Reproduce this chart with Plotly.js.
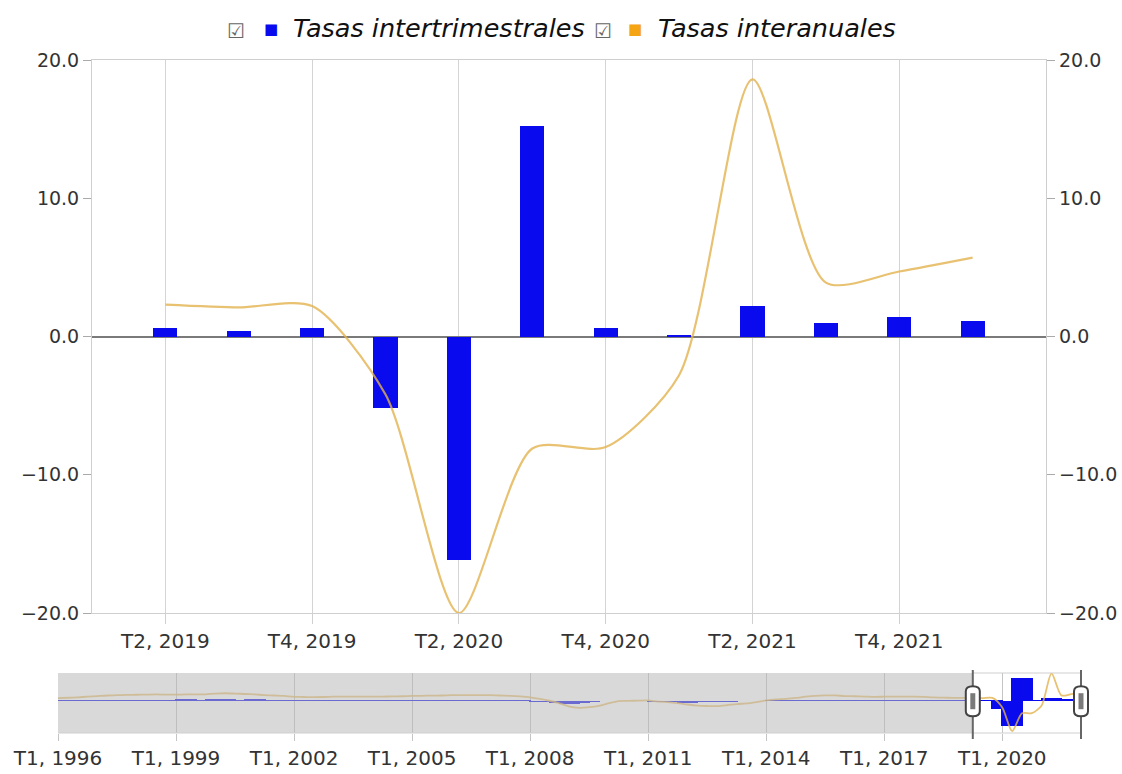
<!DOCTYPE html>
<html>
<head>
<meta charset="utf-8">
<script src="https://cdn.plot.ly/plotly-3.0.1.min.js"></script>
<style>html,body{margin:0;padding:0;background:#fff;}#chart{width:1122px;height:774px;}</style>
</head>
<body>
<div id="chart"></div>
<script>
// Main window (quarters shown in the main chart)
const categories = ["T2, 2019","T3, 2019","T4, 2019","T1, 2020","T2, 2020","T3, 2020","T4, 2020","T1, 2021","T2, 2021","T3, 2021","T4, 2021","T1, 2022"];
const intertrimestral = [0.6, 0.4, 0.6, -5.2, -16.2, 15.2, 0.6, 0.1, 2.2, 1.0, 1.4, 1.1];
const interanual = [2.3, 2.1, 2.2, -4.2, -20.0, -8.1, -8.0, -2.8, 18.6, 3.9, 4.7, 5.7];

// History shown only in the navigator (T1 1996 .. T1 2019), estimated from the small overview
const histStartYear = 1996;
const histIntertrimestral = [
  0.6,0.7,0.7,0.9, 1.0,1.1,1.0,1.0, 1.1,1.1,1.1,1.0, 1.1,1.2,1.1,1.1,
  1.5,1.3,1.0,0.9, 1.2,0.9,0.8,0.6, 0.6,0.7,0.7,0.7, 0.8,0.8,0.8,0.8,
  0.8,0.8,0.8,0.9, 0.9,0.9,1.0,1.0, 1.0,1.0,1.0,1.0, 1.0,0.8,0.8,0.7,
  0.4,-0.3,-0.7,-1.2, -1.6,-1.0,-0.3,-0.1, 0.1,0.2,0.1,0.2, 0.1,-0.2,-0.3,-0.6,
  -0.9,-0.6,-0.5,-0.8, -0.3,-0.1,0.1,0.1, 0.3,0.6,0.6,0.7, 1.0,1.1,0.9,0.9,
  0.6,0.9,0.7,0.7, 0.7,0.9,0.7,0.7, 0.6,0.5,0.6,0.5, 0.6
];
const histInteranual = [
  2.0,2.3,2.6,3.0, 3.4,3.8,4.0,4.2, 4.3,4.4,4.5,4.4, 4.4,4.5,4.5,4.6,
  5.1,5.3,5.1,4.8, 4.5,4.1,3.8,3.5, 2.9,2.8,2.7,2.8, 3.0,3.1,3.1,3.1,
  3.1,3.1,3.2,3.3, 3.5,3.6,3.7,3.8, 4.0,4.1,4.1,4.1, 4.0,3.8,3.6,3.2,
  2.6,1.6,0.3,-1.4, -3.6,-4.4,-4.0,-3.1, -1.3,0.1,0.2,0.4, 0.5,-0.3,-0.6,-1.3,
  -2.2,-2.9,-3.2,-3.3, -2.7,-1.9,-1.5,-0.6, 0.5,1.2,1.6,2.2, 3.0,3.6,3.9,3.9,
  3.4,3.3,3.1,2.9, 3.0,3.1,3.0,3.0, 2.9,2.5,2.4,2.2, 2.2
];
const navTickYears = [1996, 1999, 2002, 2005, 2008, 2011, 2014, 2017, 2020];
const legendLabels = ["Tasas intertrimestrales", "Tasas interanuales"];

const BLUE = "#0a0aee";
const GOLD = "rgba(226,178,78,0.8)";
const FONT = "DejaVu Sans, Verdana, sans-serif";

// navigator series
const navQ = histIntertrimestral.concat(intertrimestral);
const navA = histInteranual.concat(interanual);
const navX = navQ.map((_, i) => histStartYear + i / 4);
const winStart = navX[histIntertrimestral.length];
const winEnd = navX[navX.length - 1];

const traces = [
  {type: "scatter", mode: "lines", name: legendLabels[1], x: categories, y: interanual,
   line: {color: GOLD, width: 2.2, shape: "spline", smoothing: 0.75}, xaxis: "x", yaxis: "y", hoverinfo: "y"},
  {type: "bar", name: legendLabels[0], x: categories, y: intertrimestral, width: 0.33,
   marker: {color: BLUE, line: {width: 0}}, xaxis: "x", yaxis: "y"},
  {type: "scatter", mode: "lines", x: categories, y: interanual, xaxis: "x", yaxis: "y2",
   line: {width: 0}, opacity: 0, hoverinfo: "skip", showlegend: false},
  {type: "bar", x: navX, y: navQ, width: 0.55, marker: {color: BLUE, line: {width: 0}},
   xaxis: "x3", yaxis: "y3", hoverinfo: "skip"},
  {type: "scatter", mode: "lines", x: navX, y: navA, line: {color: GOLD, width: 1.8, shape: "spline", smoothing: 0.75},
   xaxis: "x3", yaxis: "y3", hoverinfo: "skip", cliponaxis: true}
];

const W = 1122, H = 774;
const px = v => v / W, py = v => 1 - v / H;

function handle(xv) {
  return [
    {type: "line", xref: "x3", yref: "paper", x0: xv, x1: xv, y0: py(670), y1: py(739),
     line: {color: "#666", width: 2}, layer: "above"},
    {type: "path", xref: "x3", yref: "y3", xsizemode: "pixel", ysizemode: "pixel", xanchor: xv, yanchor: 0,
     path: "M -7,-10 Q -7,-15 0,-15 Q 7,-15 7,-10 L 7,10 Q 7,15 0,15 Q -7,15 -7,10 Z",
     fillcolor: "#fff", line: {color: "#444", width: 2}, layer: "above"},
    {type: "rect", xref: "x3", yref: "y3", xsizemode: "pixel", ysizemode: "pixel", xanchor: xv, yanchor: 0,
     x0: -2.5, x1: 2.5, y0: -8, y1: 8, fillcolor: "#7a7a7a", line: {width: 0}, layer: "above"}
  ];
}

const NAV_L = 58, NAV_R = 1096, NAV_END_PX = 1081;
const navPxPerYear = (NAV_END_PX - NAV_L) / (winEnd - histStartYear);
const navRangeEnd = winEnd + (NAV_R - NAV_END_PX) / navPxPerYear;

const shapes = [
  {type: "rect", xref: "x3", yref: "y3 domain", x0: histStartYear, x1: winStart, y0: 0, y1: 1,
   fillcolor: "rgba(185,185,185,0.55)", line: {width: 0}, layer: "above"},
  {type: "rect", xref: "x3", yref: "y3 domain", x0: winEnd, x1: navRangeEnd, y0: -0.05, y1: 1.05,
   fillcolor: "#fff", line: {width: 0}, layer: "above"},
  {type: "line", xref: "x3", yref: "y3 domain", x0: winStart, x1: winEnd, y0: 1, y1: 1,
   line: {color: "#cfcfcf", width: 1}, layer: "above"},
  {type: "line", xref: "x3", yref: "y3 domain", x0: histStartYear, x1: winEnd, y0: 0, y1: 0,
   line: {color: "#cfcfcf", width: 1}, layer: "above"}
].concat(handle(winStart), handle(winEnd));

const annotations = [
  {xref: "paper", yref: "paper", x: px(225), y: py(31), xanchor: "left", yanchor: "middle", showarrow: false,
   text: "☑", font: {family: FONT, size: 20, color: "#666"}},
  {xref: "paper", yref: "paper", x: px(262), y: py(29), xanchor: "left", yanchor: "middle", showarrow: false,
   text: "■", font: {family: FONT, size: 15, color: BLUE}},
  {xref: "paper", yref: "paper", x: px(291), y: py(28), xanchor: "left", yanchor: "middle", showarrow: false,
   text: "<i>" + legendLabels[0] + "</i>", font: {family: FONT, size: 25.5, color: "#111"}},
  {xref: "paper", yref: "paper", x: px(592), y: py(31), xanchor: "left", yanchor: "middle", showarrow: false,
   text: "☑", font: {family: FONT, size: 20, color: "#666"}},
  {xref: "paper", yref: "paper", x: px(626), y: py(29), xanchor: "left", yanchor: "middle", showarrow: false,
   text: "■", font: {family: FONT, size: 15, color: "#f5a514"}},
  {xref: "paper", yref: "paper", x: px(656), y: py(28), xanchor: "left", yanchor: "middle", showarrow: false,
   text: "<i>" + legendLabels[1] + "</i>", font: {family: FONT, size: 25.5, color: "#111"}}
];

const tickFont = {family: FONT, size: 20, color: "#333"};
const yTickFont = {family: FONT, size: 19, color: "#333"};
const mainTicks = categories.filter(c => c.startsWith("T2") || c.startsWith("T4"));

const layout = {
  width: W, height: H,
  margin: {l: 0, r: 0, t: 0, b: 0},
  paper_bgcolor: "#fff", plot_bgcolor: "#fff",
  showlegend: false,
  bargap: 0,
  font: {family: FONT, color: "#333"},
  xaxis: {
    domain: [px(92), px(1046)], anchor: "y",
    type: "category", categoryorder: "array", categoryarray: categories,
    range: [-1, 12], tickmode: "array", tickvals: mainTicks, ticktext: mainTicks,
    showgrid: true, gridcolor: "#d4d4d4", gridwidth: 1,
    ticks: "outside", ticklen: 10, tickcolor: "#d0d0d0",
    showline: true, mirror: true, linecolor: "#cfcfcf", linewidth: 1,
    tickfont: tickFont, fixedrange: true
  },
  yaxis: {
    domain: [py(613), py(60)], anchor: "x",
    range: [-20, 20], dtick: 10, tick0: 0, tickformat: ".1f",
    showgrid: false, zeroline: true, zerolinecolor: "#7a7a7a", zerolinewidth: 2,
    ticks: "outside", ticklen: 8, tickcolor: "#aaa",
    showline: true, mirror: "ticks", linecolor: "#cfcfcf", linewidth: 1,
    tickfont: yTickFont, fixedrange: true
  },
  yaxis2: {
    overlaying: "y", side: "right", anchor: "x",
    range: [-20, 20], dtick: 10, tick0: 0, tickformat: ".1f",
    showgrid: false, zeroline: false, ticks: "", showline: false,
    tickfont: yTickFont, fixedrange: true, ticklabelstandoff: 12
  },
  xaxis3: {
    domain: [px(NAV_L), px(NAV_R)], anchor: "y3",
    range: [histStartYear, navRangeEnd],
    tickmode: "array", tickvals: navTickYears, ticktext: navTickYears.map(y => "T1, " + y),
    showgrid: true, gridcolor: "#c4c4c4", gridwidth: 1,
    ticks: "outside", ticklen: 7, tickcolor: "#c4c4c4",
    showline: false, zeroline: false,
    tickfont: tickFont, fixedrange: true
  },
  yaxis3: {
    domain: [py(733), py(673)], anchor: "x3",
    range: [-21.2, 18.8], showticklabels: false, showgrid: false, zeroline: false,
    ticks: "", showline: false, fixedrange: true
  },
  shapes: shapes,
  annotations: annotations
};

Plotly.newPlot("chart", traces, layout, {displayModeBar: false, staticPlot: true});
</script>
</body>
</html>
